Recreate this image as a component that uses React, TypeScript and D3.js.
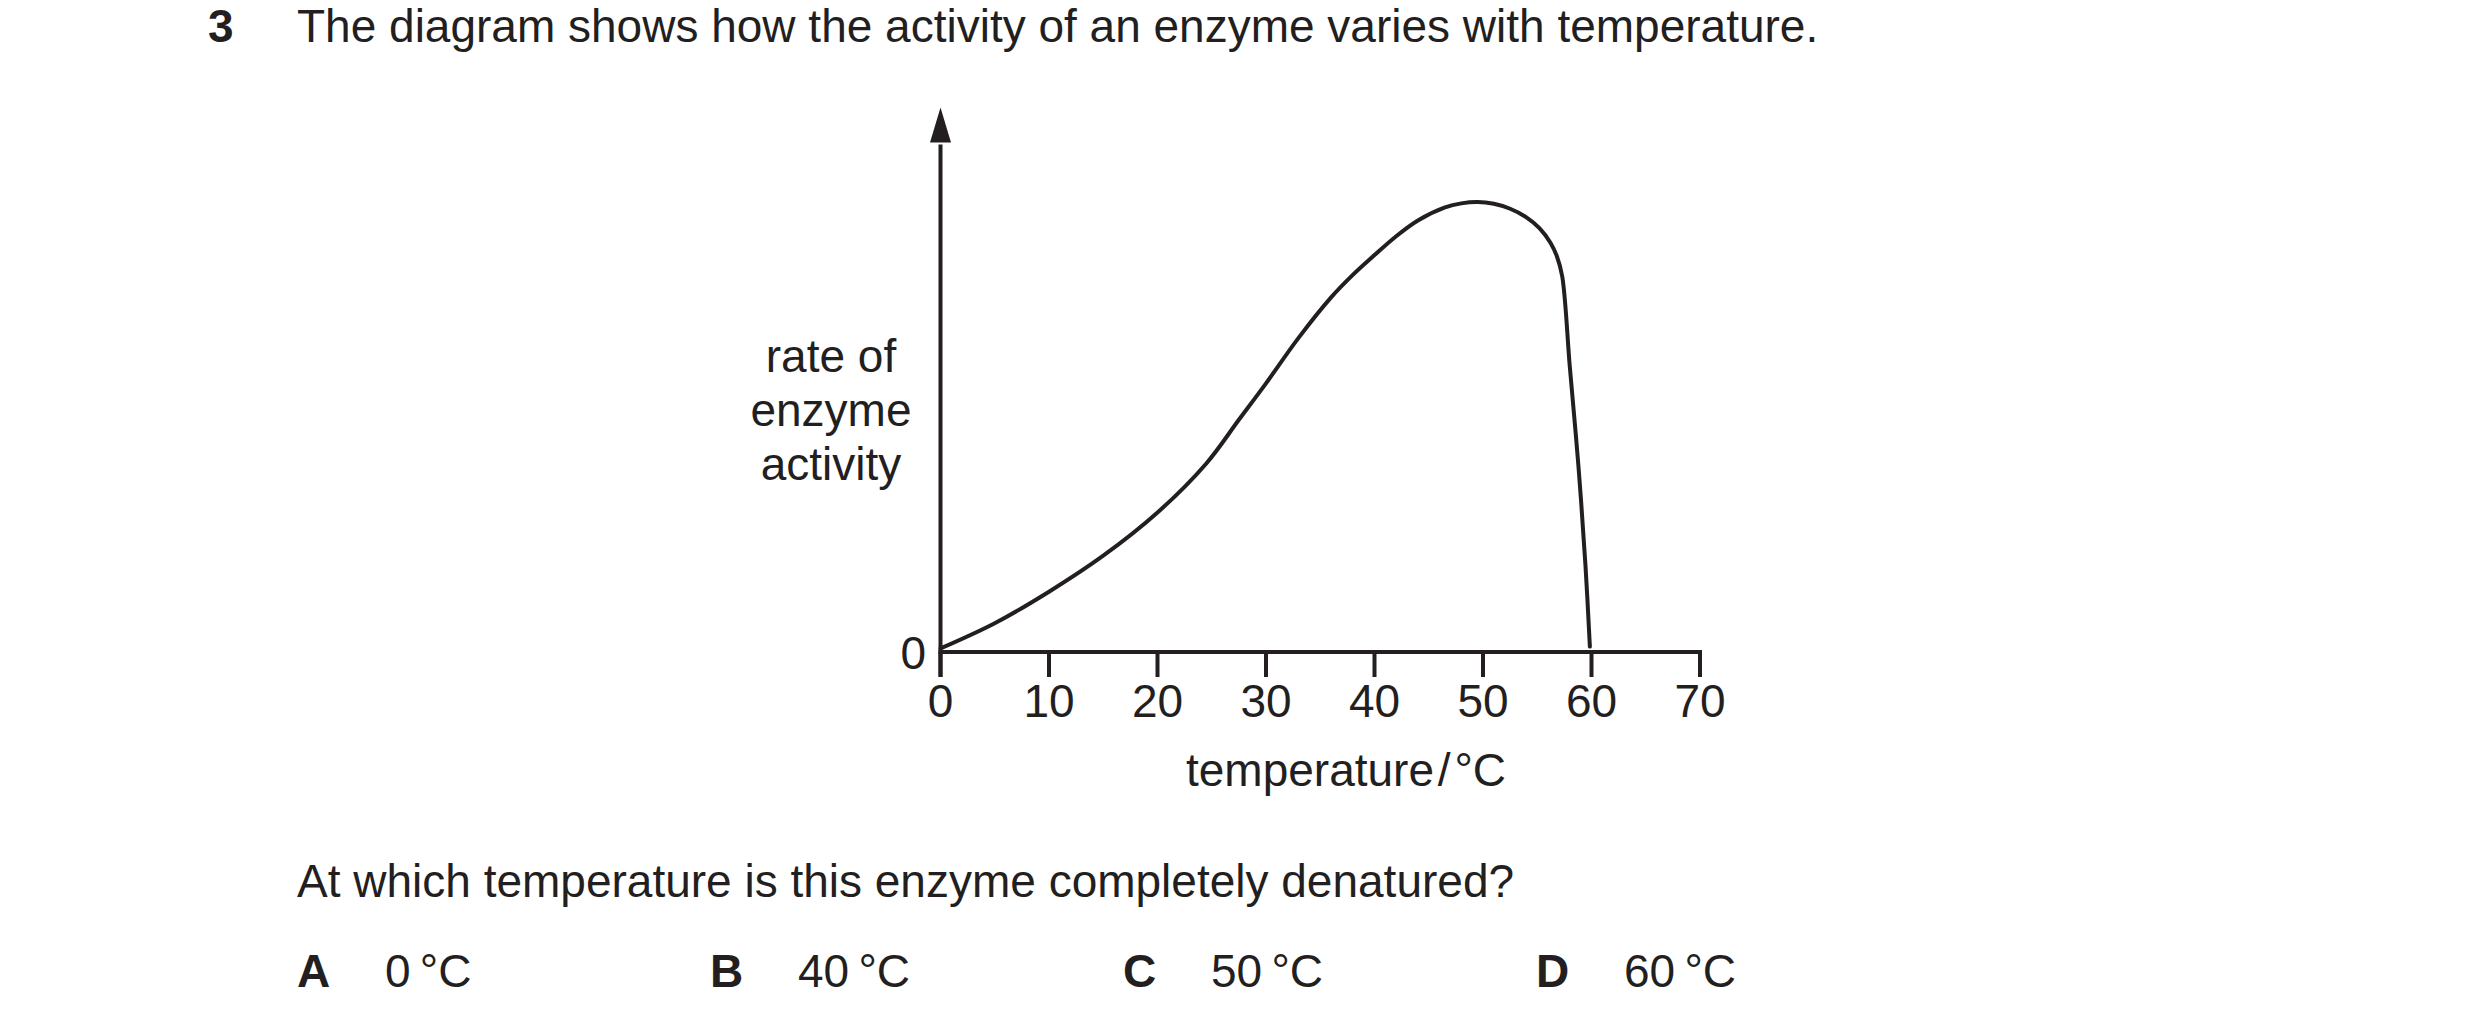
import React from "react";
import * as d3 from "d3";

// ---- data ----
const temperatures: number[] = [0, 5, 10, 15, 20, 24.5, 27.5, 30, 33, 36, 38, 40, 42, 44, 46.5, 48, 49.5, 51, 52.5, 54, 55.2, 56.2, 56.8, 57.3, 58, 58.8, 59.45, 59.85];
const activity: number[] = [0.8, 6.4, 13.4, 21.4, 31.0, 41.9, 51.6, 59.7, 69.8, 78.8, 83.8, 88.2, 92.4, 95.9, 98.8, 99.7, 100, 99.6, 98.5, 96.6, 94.2, 91.0, 88.0, 83.5, 63.4, 41.2, 19.0, 1.2];
const xTicks: number[] = [0, 10, 20, 30, 40, 50, 60, 70];
const yAxisLabelLines: string[] = ["rate of", "enzyme", "activity"];
const questionNumber = "3";
const questionText = "The diagram shows how the activity of an enzyme varies with temperature.";
const promptText = "At which temperature is this enzyme completely denatured?";
const optionLetters: string[] = ["A", "B", "C", "D"];
const optionValues: string[] = ["0\u2009°C", "40\u2009°C", "50\u2009°C", "60\u2009°C"];
const xAxisTitle = "temperature\u200A/\u200A°C";

const W = 2480;
const H = 1026;
const INK = "#231f20";
const FONT = "'Liberation Sans', Arial, Helvetica, sans-serif";
const FS = 46;

export default function App() {
  const x = d3.scaleLinear().domain([0, 70]).range([940.5, 1700]);
  const y = d3.scaleLinear().domain([0, 100]).range([652, 202]);

  const pts: [number, number][] = temperatures.map((t, i) => [t, activity[i]]);
  const line = d3
    .line<[number, number]>()
    .x((d) => x(d[0]))
    .y((d) => y(d[1]))
    .curve(d3.curveCatmullRom.alpha(0.5));

  const x0 = x(0);
  const yBase = y(0);
  const arrowTip = y(121);
  const arrowBase = y(113.2);
  const tickLen = 25;

  const optionX = (i: number) => 297 + i * 413;

  return (
    <svg
      width={W}
      height={H}
      viewBox={`0 0 ${W} ${H}`}
      style={{ position: "absolute", left: 0, top: 0, background: "#fff" }}
      fontFamily={FONT}
    >
      <rect x={0} y={0} width={W} height={H} fill="#fff" />
      {/* header */}
      <text x={208} y={42} fontSize={FS} fontWeight="bold" fill={INK}>
        {questionNumber}
      </text>
      <text x={297} y={42} fontSize={FS} fill={INK}>
        {questionText}
      </text>

      {/* y axis with arrow */}
      <line x1={x0} y1={yBase + tickLen} x2={x0} y2={arrowBase + 2} stroke={INK} strokeWidth={4} />
      <path
        d={`M${x0},${arrowTip} L${x0 + 10.5},${arrowBase} L${x0 - 10.5},${arrowBase} Z`}
        fill={INK}
      />
      {/* x axis */}
      <line x1={x0 - 2} y1={yBase} x2={x(70) + 2} y2={yBase} stroke={INK} strokeWidth={4} />
      {xTicks.map((t) => (
        <g key={t}>
          <line x1={x(t)} y1={yBase} x2={x(t)} y2={yBase + tickLen} stroke={INK} strokeWidth={4} />
          <text x={x(t)} y={717} fontSize={FS} textAnchor="middle" fill={INK}>
            {t}
          </text>
        </g>
      ))}
      {/* y zero label */}
      <text x={926} y={669} fontSize={FS} textAnchor="end" fill={INK}>
        0
      </text>
      {/* y axis label */}
      {yAxisLabelLines.map((s, i) => (
        <text key={s} x={831} y={372 + i * 54} fontSize={FS} textAnchor="middle" fill={INK}>
          {s}
        </text>
      ))}
      {/* x axis title */}
      <text x={1186} y={786} fontSize={FS} fill={INK}>
        {xAxisTitle}
      </text>

      {/* curve */}
      <path d={line(pts) || ""} fill="none" stroke={INK} strokeWidth={4} strokeLinecap="round" strokeLinejoin="round" />

      {/* question */}
      <text x={297} y={897} fontSize={FS} fill={INK}>
        {promptText}
      </text>
      {optionLetters.map((l, i) => (
        <g key={l}>
          <text x={optionX(i)} y={987} fontSize={FS} fontWeight="bold" fill={INK}>
            {l}
          </text>
          <text x={optionX(i) + 88} y={987} fontSize={FS} fill={INK}>
            {optionValues[i]}
          </text>
        </g>
      ))}
    </svg>
  );
}
